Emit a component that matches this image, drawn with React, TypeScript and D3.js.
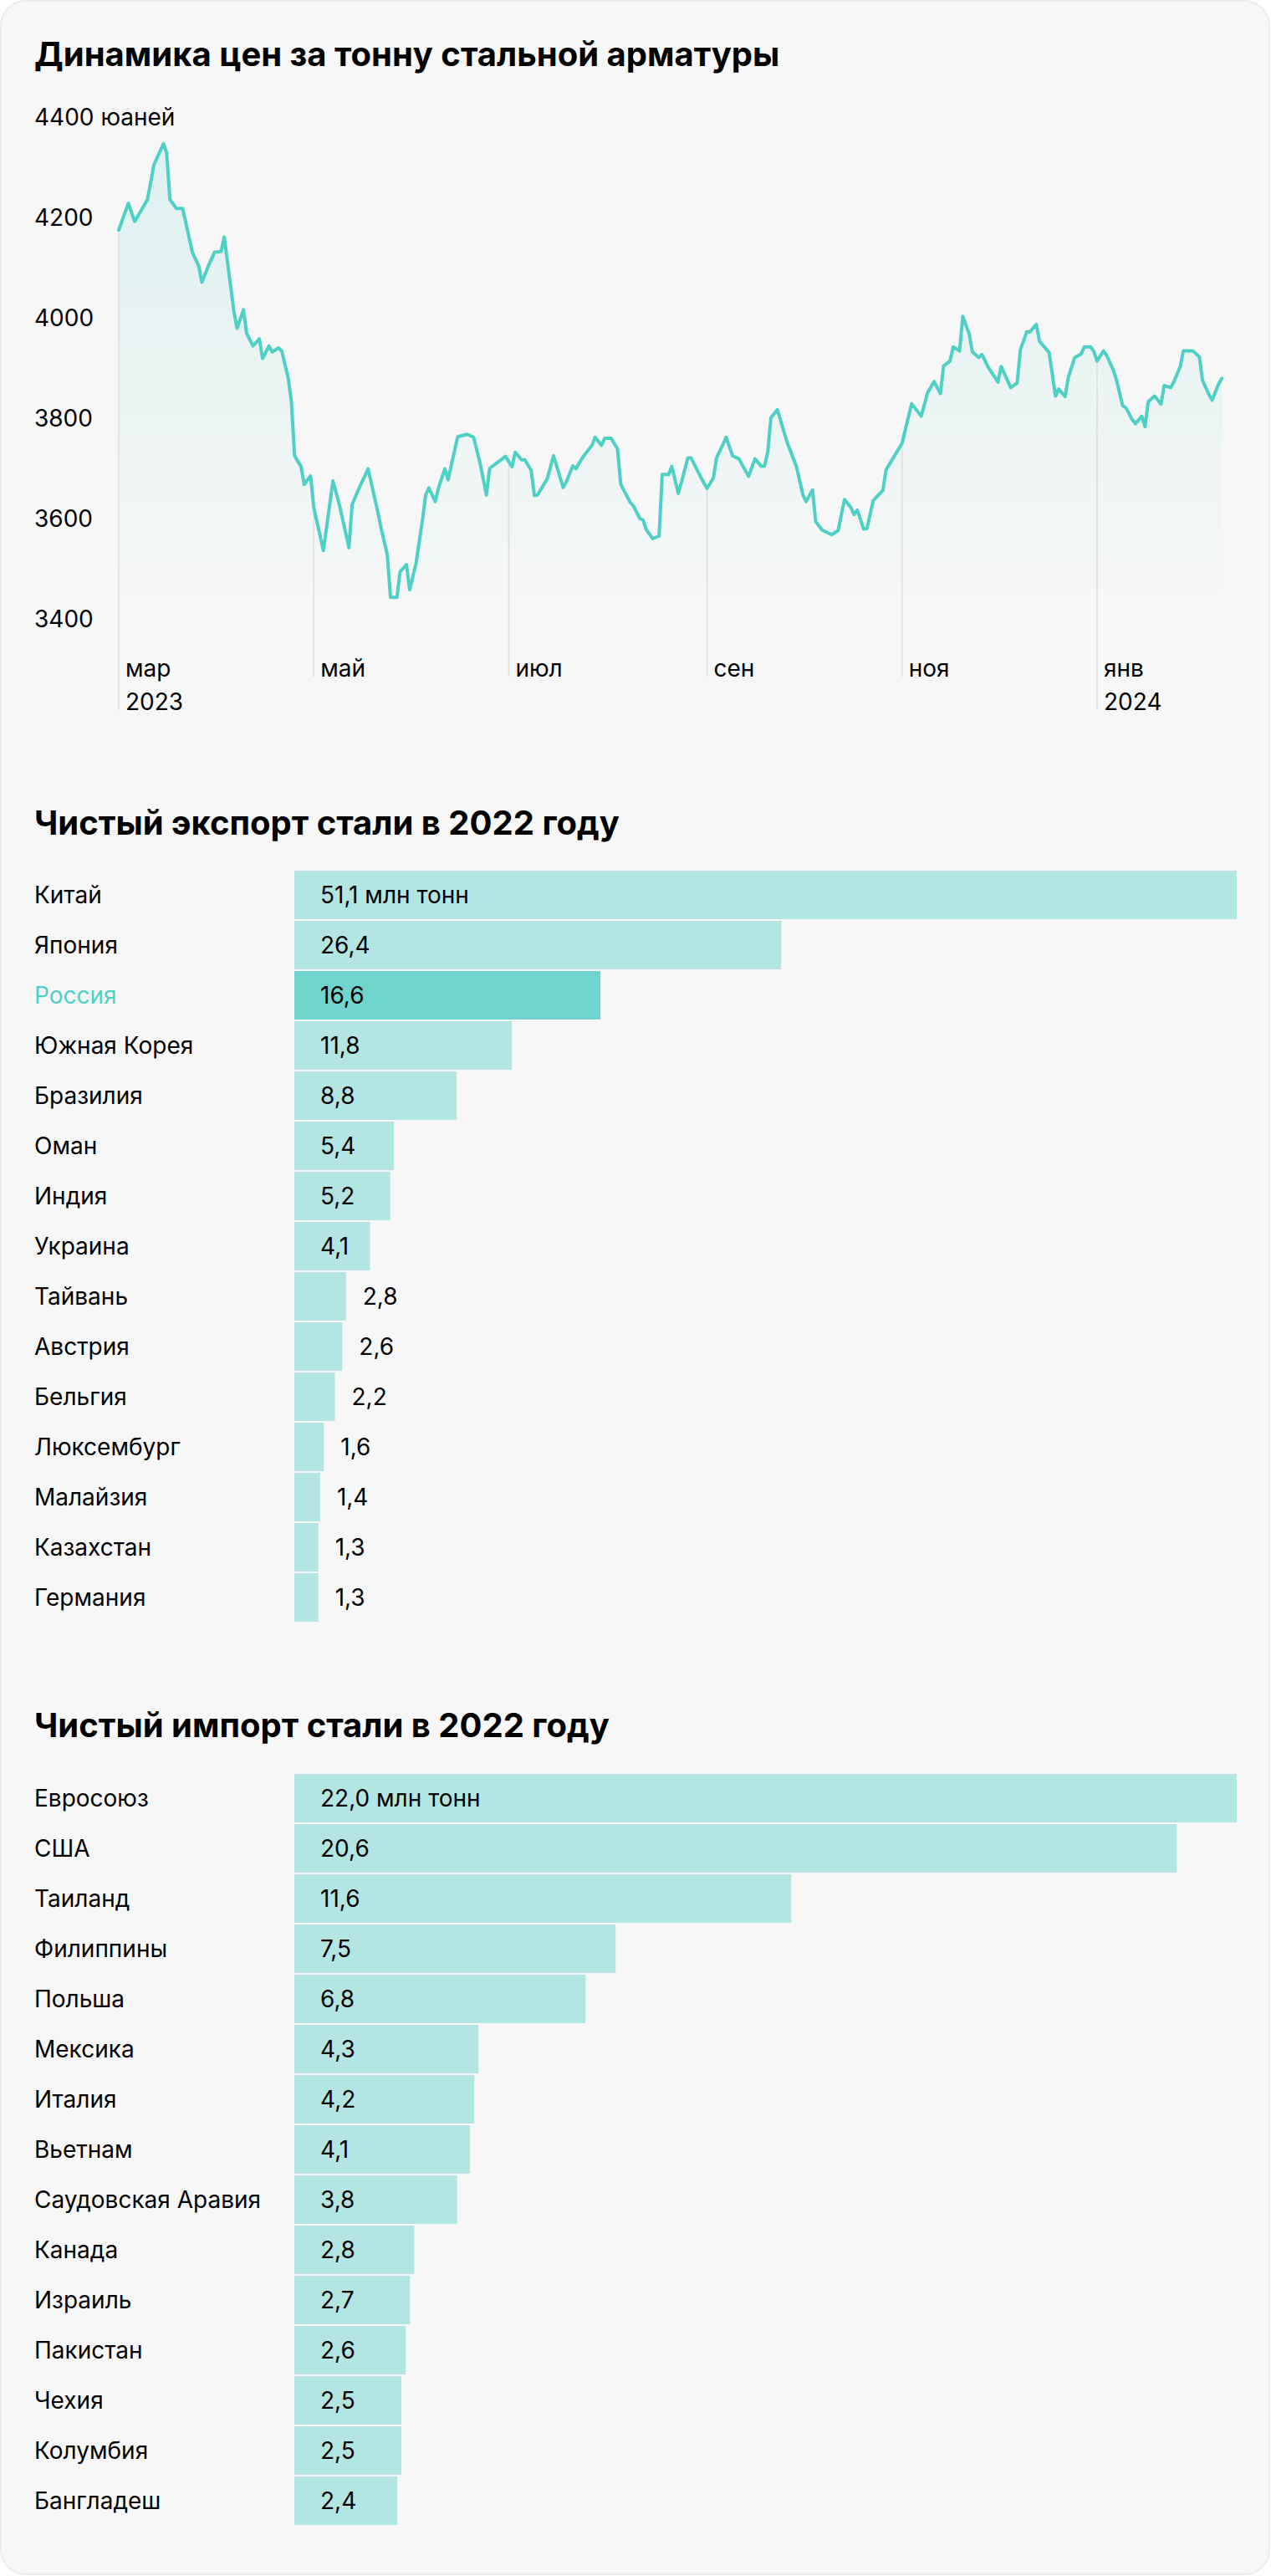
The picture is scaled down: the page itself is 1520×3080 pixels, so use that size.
import React from "react";
import * as d3 from "d3";

// ---------- Data ----------
const priceDates = [
  "2023-03-01","2023-03-04","2023-03-06","2023-03-10","2023-03-12","2023-03-15","2023-03-16","2023-03-17","2023-03-19","2023-03-21",
  "2023-03-24","2023-03-26","2023-03-27","2023-03-29","2023-03-31","2023-04-02","2023-04-03","2023-04-06","2023-04-07","2023-04-09",
  "2023-04-10","2023-04-12","2023-04-14","2023-04-15","2023-04-17","2023-04-18","2023-04-20","2023-04-21","2023-04-23","2023-04-24",
  "2023-04-25","2023-04-27","2023-04-28","2023-04-30","2023-05-01","2023-05-04","2023-05-07","2023-05-09","2023-05-12","2023-05-13",
  "2023-05-15","2023-05-18","2023-05-21","2023-05-22","2023-05-24","2023-05-25","2023-05-27","2023-05-28","2023-05-30","2023-05-31",
  "2023-06-02","2023-06-04","2023-06-05","2023-06-06","2023-06-08","2023-06-09","2023-06-11","2023-06-12","2023-06-15","2023-06-18",
  "2023-06-20","2023-06-22","2023-06-24","2023-06-25","2023-06-30","2023-07-02","2023-07-03","2023-07-05","2023-07-06","2023-07-08",
  "2023-07-09","2023-07-10","2023-07-13","2023-07-15","2023-07-18","2023-07-19","2023-07-21","2023-07-22","2023-07-24","2023-07-27",
  "2023-07-28","2023-07-30","2023-07-31","2023-08-02","2023-08-04","2023-08-05","2023-08-06","2023-08-08","2023-08-09","2023-08-11",
  "2023-08-12","2023-08-13","2023-08-15","2023-08-17","2023-08-18","2023-08-20","2023-08-21","2023-08-23","2023-08-24","2023-08-26",
  "2023-08-27","2023-08-30","2023-09-01","2023-09-03","2023-09-04","2023-09-07","2023-09-09","2023-09-11","2023-09-14","2023-09-16",
  "2023-09-18","2023-09-19","2023-09-20","2023-09-21","2023-09-23","2023-09-26","2023-09-29","2023-10-01","2023-10-02","2023-10-04",
  "2023-10-05","2023-10-07","2023-10-10","2023-10-12","2023-10-14","2023-10-16","2023-10-17","2023-10-18","2023-10-20","2023-10-21",
  "2023-10-23","2023-10-26","2023-10-27","2023-10-30","2023-11-01","2023-11-04","2023-11-07","2023-11-09","2023-11-11","2023-11-13",
  "2023-11-14","2023-11-16","2023-11-17","2023-11-19","2023-11-20","2023-11-22","2023-11-23","2023-11-25","2023-11-26","2023-11-28",
  "2023-12-01","2023-12-02","2023-12-05","2023-12-07","2023-12-08","2023-12-10","2023-12-11","2023-12-13","2023-12-14","2023-12-17",
  "2023-12-19","2023-12-20","2023-12-22","2023-12-23","2023-12-25","2023-12-27","2023-12-28","2023-12-30","2023-12-31","2024-01-01",
  "2024-01-03","2024-01-04","2024-01-06","2024-01-07","2024-01-09","2024-01-10","2024-01-12","2024-01-13","2024-01-15","2024-01-16",
  "2024-01-17","2024-01-19","2024-01-21","2024-01-22","2024-01-24","2024-01-25","2024-01-27","2024-01-28","2024-01-31","2024-02-02",
  "2024-02-03","2024-02-05","2024-02-06","2024-02-08","2024-02-09",
];
const priceValues = [
  4175,4228,4192,4236,4305,4347,4328,4236,4218,4218,
  4131,4103,4071,4103,4131,4132,4161,4014,3979,4016,
  3969,3944,3958,3919,3944,3932,3940,3934,3880,3833,
  3725,3704,3668,3685,3622,3536,3675,3628,3542,3628,
  3658,3699,3614,3583,3528,3443,3443,3494,3508,3458,
  3511,3597,3647,3661,3634,3661,3699,3677,3763,3768,
  3762,3711,3647,3700,3724,3703,3732,3717,3717,3696,
  3646,3647,3679,3725,3662,3673,3705,3699,3721,3746,
  3762,3746,3760,3760,3739,3669,3656,3632,3625,3600,
  3597,3578,3560,3565,3688,3688,3704,3650,3672,3721,
  3721,3683,3660,3681,3721,3762,3725,3719,3684,3719,
  3704,3705,3733,3801,3817,3753,3703,3647,3634,3657,
  3594,3577,3568,3576,3638,3622,3608,3617,3579,3580,
  3636,3656,3697,3729,3750,3829,3804,3851,3873,3849,
  3904,3914,3942,3934,4003,3968,3932,3921,3927,3901,
  3872,3903,3861,3870,3936,3972,3972,3987,3953,3931,
  3844,3858,3843,3881,3921,3928,3942,3942,3933,3914,
  3934,3925,3897,3878,3825,3821,3797,3789,3804,3783,
  3833,3844,3828,3865,3861,3872,3903,3934,3934,3922,
  3875,3847,3836,3868,3879,
];

const yTickValues = [4400, 4200, 4000, 3800, 3600, 3400];
const yUnit = "юаней";
const monthTickDates = ["2023-03-01", "2023-05-01", "2023-07-01", "2023-09-01", "2023-11-01", "2024-01-01"];
const monthTickLabels = ["мар", "май", "июл", "сен", "ноя", "янв"];
const yearTickDates = ["2023-03-01", "2024-01-01"];
const yearTickLabels = ["2023", "2024"];

const exportCountries = [
  "Китай","Япония","Россия","Южная Корея","Бразилия","Оман","Индия","Украина",
  "Тайвань","Австрия","Бельгия","Люксембург","Малайзия","Казахстан","Германия",
];
const exportValues = [51.1, 26.4, 16.6, 11.8, 8.8, 5.4, 5.2, 4.1, 2.8, 2.6, 2.2, 1.6, 1.4, 1.3, 1.3];

const importCountries = [
  "Евросоюз","США","Таиланд","Филиппины","Польша","Мексика","Италия","Вьетнам",
  "Саудовская Аравия","Канада","Израиль","Пакистан","Чехия","Колумбия","Бангладеш",
];
const importValues = [22.0, 20.6, 11.6, 7.5, 6.8, 4.3, 4.2, 4.1, 3.8, 2.8, 2.7, 2.6, 2.5, 2.5, 2.4];

const highlightCountry = "Россия";
const unitLabel = "млн тонн";

const titleMain = "Динамика цен за тонну стальной арматуры";
const titleExport = "Чистый экспорт стали в 2022 году";
const titleImport = "Чистый импорт стали в 2022 году";

// ---------- Styles ----------
const W = 1520;
const H = 3080;
const FONT = "Inter, Roboto, 'Noto Sans', sans-serif";
const TEAL = "#4fd0c4";
const BAR = "#b3e6e2";
const BAR_HL = "#71d5cf";
const GRID = "#dedede";
const FS = 28;
const TFS = 40;

const parse = d3.utcParse("%Y-%m-%d");

type Pt = { date: Date; value: number };

function BarBlock({ countries, values, top, title, titleY }: { countries: string[]; values: number[]; top: number; title: string; titleY: number }) {
  const x = d3.scaleLinear().domain([0, d3.max(values) as number]).range([352, 1479]);
  const y = d3
    .scaleBand<string>()
    .domain(countries)
    .range([top, top + countries.length * 60 - 2])
    .paddingInner(2 / 60)
    .paddingOuter(0);
  const fmt = (v: number) => v.toFixed(1).replace(".", ",");
  return (
    <g>
      <text x={41} y={titleY} fontSize={TFS} fontWeight={700} fill="#000">{title}</text>
      {countries.map((c, i) => {
        const v = values[i];
        const y0 = y(c) as number;
        const bw = y.bandwidth();
        const x0 = x(0);
        const x1 = x(v);
        const hl = c === highlightCountry;
        const inside = x1 - x0 > 70;
        const label = i === 0 ? `${fmt(v)} ${unitLabel}` : fmt(v);
        return (
          <g key={c}>
            <text x={41} y={y0 + bw / 2 + 10} fontSize={FS} fill={hl ? TEAL : "#000"}>{c}</text>
            <rect x={x0} y={y0} width={x1 - x0} height={bw} fill={hl ? BAR_HL : BAR} />
            <text x={inside ? x0 + 31 : x1 + 20} y={y0 + bw / 2 + 10} fontSize={FS} fill="#000">{label}</text>
          </g>
        );
      })}
    </g>
  );
}

export default function App() {
  const data: Pt[] = priceDates.map((d, i) => ({ date: parse(d) as Date, value: priceValues[i] }));
  const x = d3
    .scaleUtc()
    .domain([parse("2023-03-01") as Date, parse("2024-01-01") as Date])
    .range([142, 1312]);
  const y = d3.scaleLinear().domain([3400, 4400]).range([740, 140]);

  const line = d3
    .line<Pt>()
    .x((d) => x(d.date))
    .y((d) => y(d.value));
  const area = d3
    .area<Pt>()
    .x((d) => x(d.date))
    .y0(y(3400))
    .y1((d) => y(d.value));

  const bis = d3.bisector<Pt, Date>((d) => d.date).left;
  const valueAt = (dt: Date) => {
    const i = bis(data, dt);
    if (i <= 0) return data[0].value;
    if (i >= data.length) return data[data.length - 1].value;
    const a = data[i - 1];
    const b = data[i];
    const t = (+dt - +a.date) / (+b.date - +a.date);
    return a.value + t * (b.value - a.value);
  };

  return (
    <div style={{ width: W, height: H, background: "#fff" }}>
      <style>{`html,body{margin:0;padding:0;background:#fff;}`}</style>
      <svg width={W} height={H} viewBox={`0 0 ${W} ${H}`} style={{ display: "block", fontFamily: FONT }}>
        <defs>
          <linearGradient id="areaGrad" x1="0" y1={y(4400)} x2="0" y2={y(3400)} gradientUnits="userSpaceOnUse">
            <stop offset="0" stopColor={TEAL} stopOpacity={0.16} />
            <stop offset="1" stopColor={TEAL} stopOpacity={0} />
          </linearGradient>
        </defs>
        <rect x={1} y={1} width={W - 3} height={H - 3} rx={30} fill="#f7f7f7" stroke="#ececec" strokeWidth={2} />

        <text x={41} y={79} fontSize={TFS} fontWeight={700} fill="#000">{titleMain}</text>

        {yTickValues.map((v, i) => (
          <text key={v} x={41} y={y(v) + 10} fontSize={FS} fill="#000">
            {i === 0 ? `${v} ${yUnit}` : v}
          </text>
        ))}

        <path d={area(data) as string} fill="url(#areaGrad)" />

        {monthTickDates.map((ds, i) => {
          const dt = parse(ds) as Date;
          const isYear = yearTickDates.includes(ds);
          const gx = x(dt);
          return (
            <g key={ds}>
              <line x1={gx} x2={gx} y1={y(valueAt(dt))} y2={isYear ? 849 : 809} stroke={GRID} strokeWidth={1.5} />
              <text x={gx + 8} y={809} fontSize={FS} fill="#000">{monthTickLabels[i]}</text>
              {isYear && (
                <text x={gx + 8} y={849} fontSize={FS} fill="#000">
                  {yearTickLabels[yearTickDates.indexOf(ds)]}
                </text>
              )}
            </g>
          );
        })}

        <path d={line(data) as string} fill="none" stroke={TEAL} strokeWidth={4} strokeLinejoin="round" strokeLinecap="round" />

        <BarBlock countries={exportCountries} values={exportValues} top={1041} title={titleExport} titleY={998} />
        <BarBlock countries={importCountries} values={importValues} top={2121} title={titleImport} titleY={2077} />
      </svg>
    </div>
  );
}
